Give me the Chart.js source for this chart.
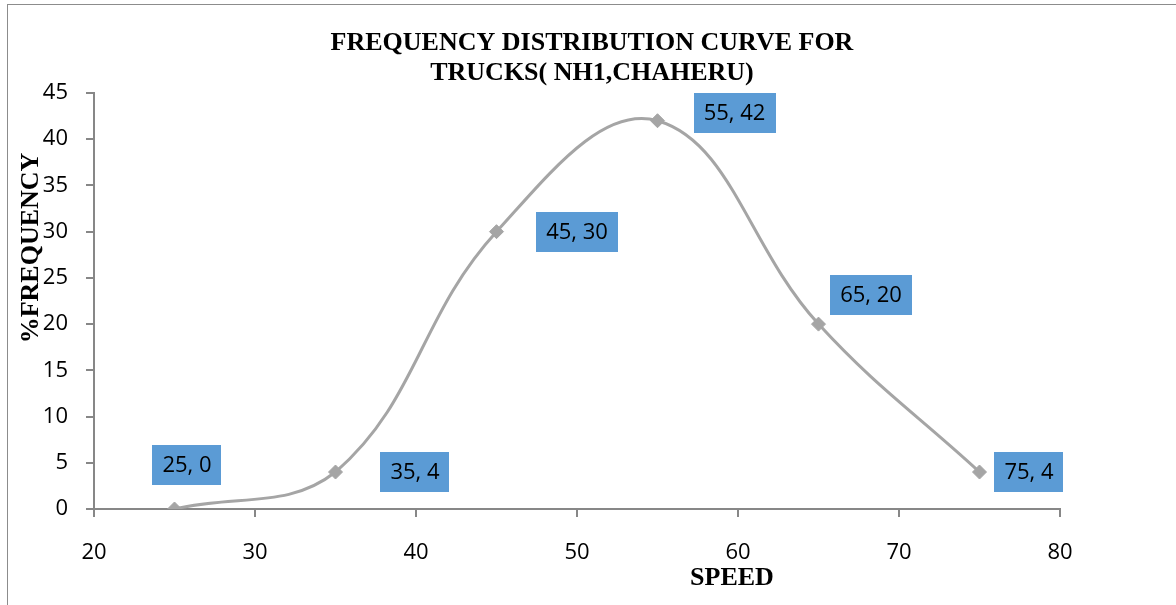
<!DOCTYPE html>
<html><head><meta charset="utf-8">
<script src="https://cdn.jsdelivr.net/npm/chart.js@4"></script>
<style>html,body{margin:0;padding:0;background:#fff}#wrap{width:1176px;height:605px;position:relative}</style>
</head><body><div id="wrap"><canvas id="c" width="1176" height="605"></canvas></div>
<script>
// ---- data ----
const speeds = [25, 35, 45, 55, 65, 75];
const frequency = [0, 4, 30, 42, 20, 4];
const xTickValues = [20, 30, 40, 50, 60, 70, 80];
const yTickValues = [0, 5, 10, 15, 20, 25, 30, 35, 40, 45];
const titleLines = ['FREQUENCY DISTRIBUTION CURVE FOR', 'TRUCKS( NH1,CHAHERU)'];
const xAxisTitle = 'SPEED';
const yAxisTitle = '%FREQUENCY';

// ---- styling / placement ----
const AXIS_COLOR = '#878787';
const LINE_COLOR = '#A5A5A5';
const BOX_COLOR = '#5B9BD5';
const TICK_FONT = '"Open Sans", "Noto Sans", sans-serif';
const SERIF = '"Liberation Serif", "DejaVu Serif", serif';
const labelOffsets = [[12.5, -44.5], [79.5, 0], [80.5, 0], [77, -7.7], [52.5, -29], [49.5, 0]];

const decor = {
  id: 'decor',
  beforeDraw(chart) {
    const ctx = chart.ctx;
    ctx.save();
    ctx.fillStyle = '#fff';
    ctx.fillRect(0, 0, chart.width, chart.height);
    ctx.strokeStyle = '#8c8c8c';
    ctx.lineWidth = 1;
    ctx.strokeRect(7.5, 4.5, 1400, 800);
    ctx.restore();
  },
  afterDraw(chart) {
    const ctx = chart.ctx;
    ctx.save();
    ctx.fillStyle = '#000';
    ctx.font = 'bold 26px ' + SERIF;
    ctx.textAlign = 'center';
    ctx.textBaseline = 'alphabetic';
    ctx.fillText(titleLines[0], 592, 50);
    ctx.fillText(titleLines[1], 592, 80);
    ctx.fillText(xAxisTitle, 732, 585);
    ctx.translate(38, 248);
    ctx.rotate(-Math.PI / 2);
    ctx.fillText(yAxisTitle, 0, 0);
    ctx.restore();
  },
  afterDatasetsDraw(chart) {
    const ctx = chart.ctx;
    const meta = chart.getDatasetMeta(0);
    ctx.save();
    ctx.font = '22px ' + TICK_FONT;
    ctx.textAlign = 'center';
    ctx.textBaseline = 'middle';
    meta.data.forEach((pt, i) => {
      const txt = speeds[i] + ', ' + frequency[i];
      const w = ctx.measureText(txt).width + 20;
      const h = 40;
      const cx = pt.x + labelOffsets[i][0];
      const cy = pt.y + labelOffsets[i][1];
      ctx.fillStyle = BOX_COLOR;
      ctx.fillRect(Math.round(cx - w / 2), Math.round(cy - h / 2), Math.round(w), h);
      ctx.fillStyle = '#000';
      ctx.fillText(txt, cx, cy + 1);
    });
    ctx.restore();
  }
};

new Chart(document.getElementById('c'), {
  type: 'line',
  data: {
    datasets: [{
      data: speeds.map((s, i) => ({x: s, y: frequency[i]})),
      borderColor: LINE_COLOR,
      backgroundColor: LINE_COLOR,
      borderWidth: 3,
      tension: 0.4,
      pointStyle: 'rectRot',
      pointRadius: 7,
      pointBorderWidth: 1,
      pointBackgroundColor: LINE_COLOR,
      pointBorderColor: LINE_COLOR,
      fill: false
    }]
  },
  options: {
    responsive: false,
    devicePixelRatio: 1,
    animation: false,
    layout: {padding: {top: 93, right: 116, left: 0, bottom: 0}},
    plugins: {legend: {display: false}, tooltip: {enabled: false}, title: {display: false}},
    scales: {
      x: {
        type: 'linear', min: 20, max: 80,
        afterBuildTicks: s => { s.ticks = xTickValues.map(v => ({value: v})); },
        afterFit: s => { s.height = 96; },
        grid: {drawOnChartArea: false, drawTicks: true, tickLength: 8, color: AXIS_COLOR, lineWidth: 2},
        border: {display: true, color: AXIS_COLOR, width: 2},
        ticks: {font: {family: TICK_FONT, size: 22}, color: '#000', padding: 23, maxRotation: 0}
      },
      y: {
        type: 'linear', min: 0, max: 45,
        afterBuildTicks: s => { s.ticks = yTickValues.map(v => ({value: v})); },
        afterFit: s => { s.width = 94; },
        grid: {drawOnChartArea: false, drawTicks: true, tickLength: 8, color: AXIS_COLOR, lineWidth: 2},
        border: {display: true, color: AXIS_COLOR, width: 2},
        ticks: {font: {family: TICK_FONT, size: 22}, color: '#000', padding: 18}
      }
    }
  },
  plugins: [decor]
});
</script></body></html>
